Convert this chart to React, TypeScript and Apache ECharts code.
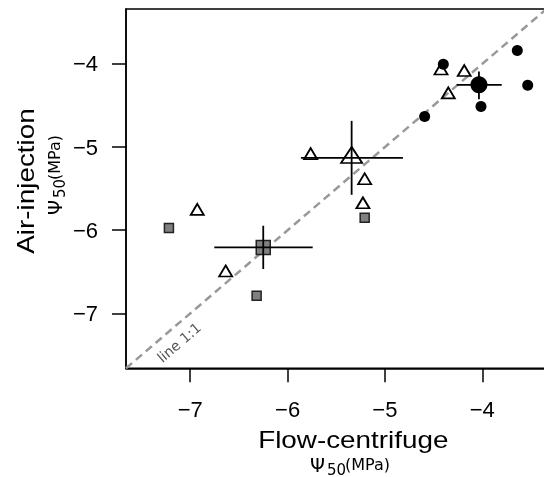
import React, { useEffect, useRef } from "react";
import * as echarts from "echarts";

// Axis ticks
const tickValues = [-7, -6, -5, -4];
const axisMin = -7.66;
const axisMax = -3.34;

// Individual species (small markers)
const circleX = [-3.64, -3.533, -4.013, -4.4, -4.592];
const circleY = [-3.84, -4.256, -4.513, -4.004, -4.633];
const triangleX = [-4.424, -4.185, -4.349, -5.763, -5.208, -5.226, -6.928, -6.636];
const triangleY = [-4.085, -4.104, -4.372, -5.104, -5.405, -5.694, -5.774, -6.514];
const squareX = [-7.219, -5.208, -6.318];
const squareY = [-5.974, -5.85, -6.787];

// Group means with error bars: circle, triangle, square
const meanX = [-4.034, -5.342, -6.25];
const meanY = [-4.252, -5.131, -6.207];
const errXLow = [-4.263, -5.863, -6.753];
const errXHigh = [-3.8, -4.815, -5.742];
const errYLow = [-4.424, -5.574, -6.466];
const errYHigh = [-4.092, -4.685, -5.946];

const oneToOne = [axisMin, axisMax];

const zip = (a: number[], b: number[]) => a.map((v, i) => [v, b[i]]);

const fmt = (v: number) => String(v).replace("-", "\u2212");

function subtitle(x: number, y: number, rotation: number, scaleX: number) {
  const font = "DejaVu Sans";
  return {
    type: "group",
    x,
    y,
    rotation,
    scaleX,
    children: [
      { type: "text", x: 0, y: 0, style: { text: "\u03A8", fontFamily: font, fontSize: 19, fill: "#000", align: "left", verticalAlign: "bottom" } },
      { type: "text", x: 17, y: 3, style: { text: "50", fontFamily: font, fontSize: 15, fill: "#000", align: "left", verticalAlign: "bottom" } },
      { type: "text", x: 35, y: -2, style: { text: "(MPa)", fontFamily: font, fontSize: 16, fill: "#000", align: "left", verticalAlign: "bottom" } },
    ],
  };
}

export default function App() {
  const ref = useRef<HTMLDivElement>(null);
  useEffect(() => {
    if (!ref.current) return;
    const chart = echarts.init(ref.current, undefined, { renderer: "svg" });
    const axisCommon = {
      type: "value",
      min: axisMin,
      max: axisMax,
      axisLine: { show: true, onZero: false, lineStyle: { color: "#000", width: 1.5 } },
      axisTick: { show: true, inside: false, length: 14, customValues: tickValues, lineStyle: { color: "#000", width: 1.5 } },
      splitLine: { show: false },
    };
    const errData = meanX.map((v, i) => [v, meanY[i], errXLow[i], errXHigh[i], errYLow[i], errYHigh[i]]);
    chart.setOption({
      animation: false,
      grid: {
        left: 126,
        top: 9,
        right: -2.5,
        bottom: 108.7,
        show: true,
        borderColor: "#000",
        borderWidth: 1.5,
        outerBoundsMode: "none",
      },
      xAxis: {
        ...axisCommon,
        axisLabel: { customValues: tickValues, formatter: fmt, fontSize: 22, color: "#000", fontFamily: "Liberation Sans", margin: 30 },
      },
      yAxis: {
        ...axisCommon,
        axisLabel: { customValues: tickValues, formatter: fmt, fontSize: 22, color: "#000", fontFamily: "Liberation Sans", margin: 28 },
      },
      series: [
        {
          type: "line",
          data: zip(oneToOne, oneToOne),
          symbol: "none",
          lineStyle: { color: "#999", width: 2.5, type: [8, 5] },
          z: 1,
        },
        {
          type: "scatter",
          data: zip(circleX, circleY),
          symbol: "circle",
          symbolSize: 11,
          itemStyle: { color: "#000", opacity: 1 },
          z: 2,
        },
        {
          type: "scatter",
          data: zip(squareX, squareY),
          symbol: "rect",
          symbolSize: 9,
          itemStyle: { color: "#808080", borderColor: "#222", borderWidth: 1.5, opacity: 1 },
          z: 2,
        },
        {
          type: "scatter",
          data: zip(triangleX, triangleY),
          symbol: "triangle",
          symbolSize: [13, 11],
          symbolOffset: [0, -2],
          itemStyle: { color: "rgba(255,255,255,0)", borderColor: "#000", borderWidth: 1.8, opacity: 1 },
          z: 3,
        },
        {
          type: "scatter",
          data: [[meanX[0], meanY[0]]],
          symbol: "circle",
          symbolSize: 17,
          itemStyle: { color: "#000", opacity: 1 },
          z: 3,
        },
        {
          type: "scatter",
          data: [[meanX[1], meanY[1]]],
          symbol: "triangle",
          symbolSize: [21, 16],
          symbolOffset: [0, -3],
          itemStyle: { color: "rgba(255,255,255,0)", borderColor: "#000", borderWidth: 1.8, opacity: 1 },
          z: 3,
        },
        {
          type: "scatter",
          data: [[meanX[2], meanY[2]]],
          symbol: "rect",
          symbolSize: 14,
          itemStyle: { color: "#808080", borderColor: "#222", borderWidth: 1.5, opacity: 1 },
          z: 3,
        },
        {
          type: "custom",
          data: errData,
          z: 4,
          renderItem: (params: any, api: any) => {
            const cx = api.value(0);
            const cy = api.value(1);
            const l = api.coord([api.value(2), cy]);
            const r = api.coord([api.value(3), cy]);
            const b = api.coord([cx, api.value(4)]);
            const t = api.coord([cx, api.value(5)]);
            const style = { stroke: "#000", lineWidth: 1.8 };
            return {
              type: "group",
              children: [
                { type: "line", shape: { x1: l[0], y1: l[1], x2: r[0], y2: r[1] }, style },
                { type: "line", shape: { x1: b[0], y1: b[1], x2: t[0], y2: t[1] }, style },
              ],
            };
          },
        },
      ],
      graphic: [
        {
          type: "text",
          x: 353.3,
          y: 439.7,
          scaleX: 1.16,
          style: { text: "Flow-centrifuge", fontFamily: "Liberation Sans", fontSize: 24, fill: "#000", align: "center", verticalAlign: "middle" },
        },
        subtitle(310, 474, 0, 1),
        {
          type: "text",
          x: 25.5,
          y: 181,
          rotation: Math.PI / 2,
          scaleX: 1.16,
          style: { text: "Air-injection", fontFamily: "Liberation Sans", fontSize: 24, fill: "#000", align: "center", verticalAlign: "middle" },
        },
        subtitle(64, 215, Math.PI / 2, 1),
        {
          type: "text",
          x: 179,
          y: 342.5,
          rotation: 0.707,
          style: { text: "line 1:1", fontFamily: "DejaVu Sans", fontSize: 14, fill: "#555", align: "center", verticalAlign: "middle" },
        },
      ],
    });
    return () => chart.dispose();
  }, []);
  return <div ref={ref} style={{ position: "fixed", left: 0, top: 0, width: 544, height: 477 }} />;
}
